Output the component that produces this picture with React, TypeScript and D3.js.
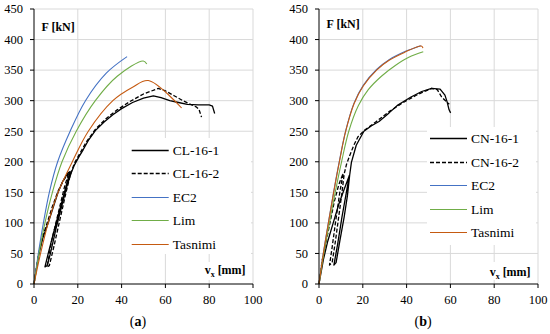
import React from "react";
import * as d3 from "d3";

type P = [number, number];

// ---------- data (v_x [mm], F [kN]) ----------
const xTicks = [0, 20, 40, 60, 80, 100];
const yTicks = [0, 50, 100, 150, 200, 250, 300, 350, 400, 450];

// panel (a)
const cl161: P[] = [
  [0, 0], [2, 45], [4, 75], [6.5, 100], [9, 128], [11, 150], [13, 167], [15.5, 182], [16.5, 184],
  [15, 165], [12, 125], [9, 85], [6.5, 50], [5, 28],
  [6, 30], [7.5, 50], [10, 90], [12.5, 125], [15, 160], [17, 182], [18.5, 195], [20.5, 208],
  [22.5, 220], [25, 236], [28, 251], [32, 265], [36, 277], [40, 287], [45, 297], [50, 304],
  [54.5, 308], [58, 305], [62, 300], [66, 297], [70, 294], [75, 293], [80, 293], [81.5, 291],
  [82, 285], [82.5, 279],
];
const cl162: P[] = [
  [0, 0], [2, 48], [4, 78], [6, 100], [8.5, 128], [11, 152], [13.5, 170], [16, 183],
  [14, 160], [11, 115], [8, 70], [6, 28],
  [7, 30], [9, 60], [11.5, 100], [14, 140], [16.5, 178], [18.5, 198], [21, 214], [24, 233],
  [28, 253], [33, 271], [38, 285], [44, 299], [50, 311], [56.8, 320], [60, 316], [64, 308],
  [68, 300], [72, 293], [74, 290], [75.3, 286], [76.5, 273],
];
const ec2A: P[] = [
  [0, 0], [2, 50], [4.3, 100], [7, 150], [10.8, 200], [16.5, 250], [23.5, 300], [33, 345], [42.5, 372],
];
const limA: P[] = [
  [0, 0], [2.3, 50], [5, 100], [8.4, 150], [12.8, 200], [19.3, 250], [28, 300], [38, 340],
  [49.9, 365], [51.5, 360],
];
const tasA: P[] = [
  [0, 0], [3, 50], [6.5, 100], [11, 150], [17.5, 200], [24.8, 250], [36, 300], [45, 322],
  [52.2, 333], [67.4, 288],
];

// panel (b)
const cn161: P[] = [
  [0, 0], [2, 40], [4, 70], [6.5, 100], [9, 130], [11.5, 155], [13.9, 178],
  [12.5, 150], [10.5, 110], [8.5, 65], [6.8, 31],
  [7.8, 35], [9.5, 70], [11.5, 110], [13, 145], [14, 178], [14.8, 199], [17, 227], [20.5, 250],
  [24, 259], [27.4, 266], [32, 280], [36, 293], [42, 306], [46.9, 315], [51.4, 320], [55.3, 319],
  [57.5, 309], [58.5, 298], [59.4, 285], [60.1, 280],
];
const cn162: P[] = [
  [0, 0], [1.5, 40], [3, 65], [5, 100], [7, 135], [9, 162], [11, 181],
  [9.5, 150], [7.5, 100], [6, 60], [4.8, 31],
  [6, 35], [7.5, 70], [9, 110], [10.5, 150], [11.5, 180], [12.5, 195], [14, 210], [16, 228],
  [17.8, 241], [20.9, 252], [26.2, 266], [32, 282], [38, 296], [44, 308], [48, 315], [51.4, 320],
  [54, 318], [56, 306], [58.3, 298], [59.5, 294],
];
const ec2B: P[] = [
  [0, 0], [2, 51], [4.3, 101], [6.7, 151], [9.3, 201], [12.2, 251], [16, 296], [20.2, 325],
  [26.3, 351], [32, 367], [39, 380], [46.5, 390],
];
const limB: P[] = [
  [0, 0], [2.2, 50], [4.8, 100], [7.4, 150], [10.3, 200], [13.6, 250], [18, 292], [22.5, 318],
  [28.5, 340], [35, 358], [41, 371], [47.6, 380],
];
const tasB: P[] = [
  [0, 0], [2, 50], [4.3, 100], [6.7, 150], [9.3, 200], [12.2, 250], [16, 295], [20.2, 324],
  [26.3, 350], [32, 366], [39, 379], [46.7, 389.5], [47.5, 386],
];

const legendA = ["CL-16-1", "CL-16-2", "EC2", "Lim", "Tasnimi"];
const legendB = ["CN-16-1", "CN-16-2", "EC2", "Lim", "Tasnimi"];

const C_EC2 = "#4472C4";
const C_LIM = "#70AD47";
const C_TAS = "#C55A11";
const FONT = "'Liberation Serif', 'DejaVu Serif', serif";

type Series = { data: P[]; color: string; dash?: string; width: number; smooth: boolean };

function Panel(props: {
  x0: number;
  series: Series[];
  legend: string[];
  legendTop: number;
  legendLineX: number;
  boxX: number;
  boxY0: number;
  boxY1: number;
  fLabelBaseline: number;
  vLabelBaseline: number;
  caption: string;
}) {
  const { x0, series, legend } = props;
  const x = d3.scaleLinear().domain([0, 100]).range([x0, x0 + 219]);
  const y = d3.scaleLinear().domain([0, 450]).range([284, 9]);
  const lineLin = d3.line<P>().x((d) => x(d[0])).y((d) => y(d[1]));
  const lineSm = d3
    .line<P>()
    .x((d) => x(d[0]))
    .y((d) => y(d[1]))
    .curve(d3.curveCatmullRom.alpha(0.5));
  const lx = props.legendLineX;
  const [r0, r1] = x.range();
  return (
    <g>
      {/* grid */}
      {yTicks.slice(1).map((t) => (
        <line key={"gy" + t} x1={r0} x2={r1} y1={y(t)} y2={y(t)} stroke="#d9d9d9" strokeWidth={1} />
      ))}
      {xTicks.slice(1).map((t) => (
        <line key={"gx" + t} x1={x(t)} x2={x(t)} y1={y(0)} y2={y(450)} stroke="#d9d9d9" strokeWidth={1} />
      ))}
      {/* legend / label backgrounds */}
      <rect x={props.boxX} y={props.boxY0} width={r1 - 2 - props.boxX} height={props.boxY1 - props.boxY0} fill="#fff" />
      <rect x={x(78)} y={262} width={x(99.5) - x(78)} height={18} fill="#fff" />
      {/* series */}
      {series.map((s, i) => (
        <path
          key={"s" + i}
          d={(s.smooth ? lineSm : lineLin)(s.data) || ""}
          fill="none"
          stroke={s.color}
          strokeWidth={s.width}
          strokeDasharray={s.dash}
          strokeLinejoin="round"
        />
      ))}
      {/* axes */}
      <line x1={r0} x2={r0} y1={y(450)} y2={y(0)} stroke="#000" strokeWidth={1} />
      <line x1={r0} x2={r1} y1={y(0)} y2={y(0)} stroke="#000" strokeWidth={1} />
      {yTicks.map((t) => (
        <g key={"yt" + t}>
          <line x1={r0 - 4} x2={r0} y1={y(t)} y2={y(t)} stroke="#000" strokeWidth={1} />
          <text x={r0 - 11} y={y(t) + 4.3} textAnchor="end" fontSize={12.5} fontFamily={FONT} fill="#000">
            {t}
          </text>
        </g>
      ))}
      {xTicks.map((t) => (
        <g key={"xt" + t}>
          <line x1={x(t)} x2={x(t)} y1={y(0)} y2={y(0) + 4} stroke="#000" strokeWidth={1} />
          <text x={x(t)} y={304} textAnchor="middle" fontSize={12.5} fontFamily={FONT} fill="#000">
            {t}
          </text>
        </g>
      ))}
      {/* axis titles */}
      <text x={r0 + 7.5} y={props.fLabelBaseline} fontSize={12} fontWeight="bold" fontFamily={FONT} fill="#000">
        F [kN]
      </text>
      <text x={x(77) + 2} y={props.vLabelBaseline} fontSize={12} fontWeight="bold" fontFamily={FONT} fill="#000">
        v
        <tspan fontSize={8} dy={2.5}>x</tspan>
        <tspan dy={-2.5}> [mm]</tspan>
      </text>
      {/* legend */}
      {legend.map((name, i) => {
        const s = series[i];
        const ly = Math.round(props.legendTop + i * 23.5) + 0.5;
        return (
          <g key={"lg" + i}>
            <line x1={lx} x2={lx + 37} y1={ly} y2={ly} stroke={s.color} strokeWidth={s.width} strokeDasharray={s.dash} />
            <text x={lx + 41} y={ly + 4.5} fontSize={13.5} fontFamily={FONT} fill="#000">
              {name}
            </text>
          </g>
        );
      })}
      {/* caption */}
      <text x={x(47.5)} y={326} textAnchor="middle" fontSize={14} fontFamily={FONT} fill="#000">
        (<tspan fontWeight="bold">{props.caption}</tspan>)
      </text>
    </g>
  );
}

export default function App() {
  const seriesA: Series[] = [
    { data: cl161, color: "#000", width: 1.3, smooth: false },
    { data: cl162, color: "#000", width: 1.3, dash: "4,2", smooth: false },
    { data: ec2A, color: C_EC2, width: 1.1, smooth: true },
    { data: limA, color: C_LIM, width: 1.1, smooth: true },
    { data: tasA, color: C_TAS, width: 1.1, smooth: true },
  ];
  const seriesB: Series[] = [
    { data: cn161, color: "#000", width: 1.3, smooth: false },
    { data: cn162, color: "#000", width: 1.3, dash: "4,2", smooth: false },
    { data: ec2B, color: C_EC2, width: 1.1, smooth: true },
    { data: limB, color: C_LIM, width: 1.1, smooth: true },
    { data: tasB, color: C_TAS, width: 1.1, smooth: true },
  ];
  return (
    <svg
      width={550}
      height={334}
      viewBox="0 0 550 334"
      style={{ position: "absolute", left: 0, top: 0, background: "#fff" }}
    >
      <rect x={0} y={0} width={550} height={334} fill="#fff" />
      <Panel
        x0={34}
        series={seriesA}
        legend={legendA}
        legendTop={149.5}
        legendLineX={131.7}
        boxX={121.5}
        boxY0={138}
        boxY1={254}
        fLabelBaseline={30.5}
        vLabelBaseline={274}
        caption="a"
      />
      <Panel
        x0={319}
        series={seriesB}
        legend={legendB}
        legendTop={138.3}
        legendLineX={430}
        boxX={427}
        boxY0={127}
        boxY1={245}
        fLabelBaseline={28}
        vLabelBaseline={276}
        caption="b"
      />
    </svg>
  );
}
